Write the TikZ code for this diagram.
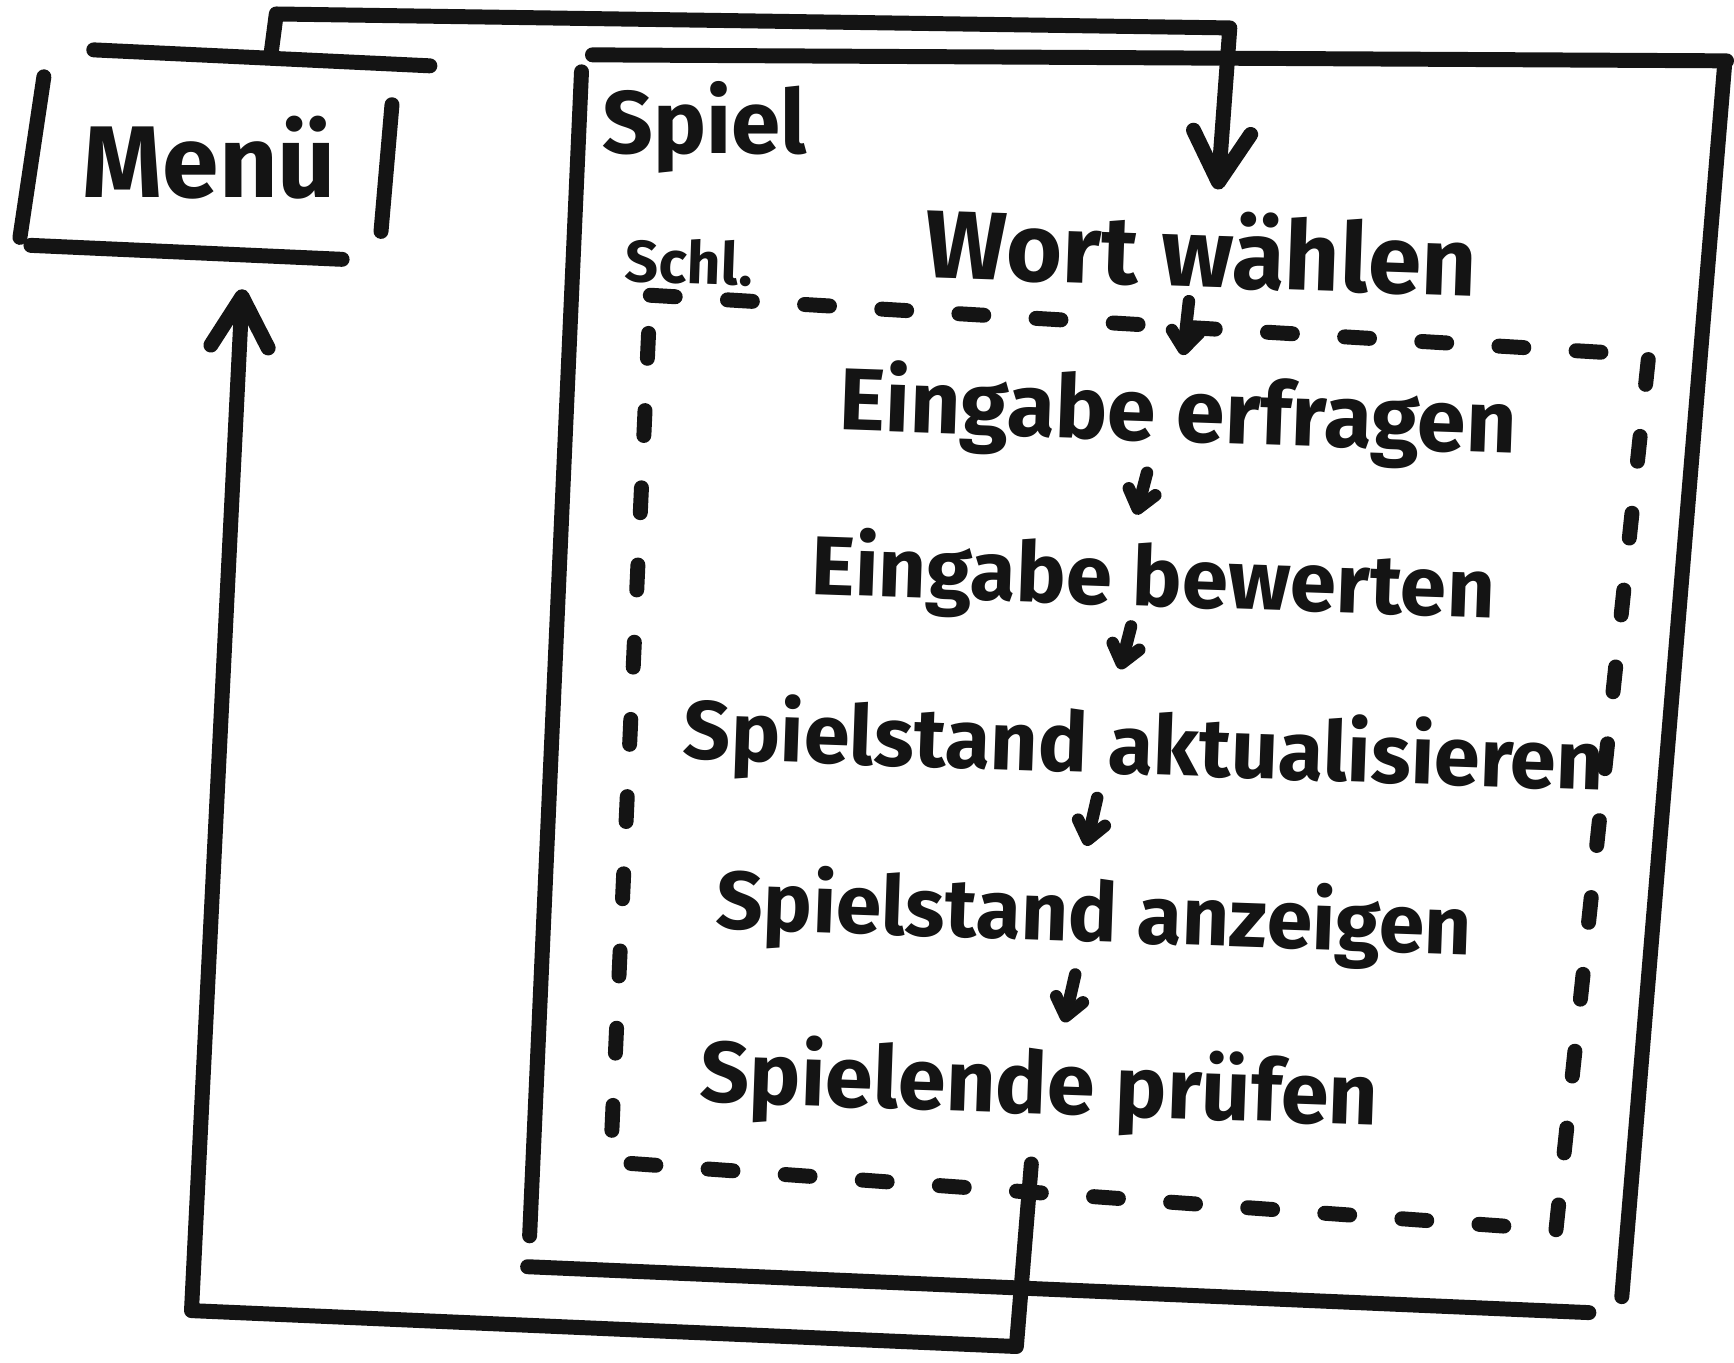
\documentclass[tikz,border=0pt]{standalone}
\usepackage{fontspec}
\usepackage{graphicx}
\setmainfont{Fira Sans}
\usetikzlibrary{arrows.meta}
\newlength\px
\setlength\px{0.02cm}
\newcommand{\hand}[2]{\resizebox{#1\px}{!}{\bfseries #2}}
\begin{document}
\begin{tikzpicture}[x=0.02cm,y=-0.02cm,
  pen/.style={line width=0.3cm,line cap=round,line join=round,draw=black!92},
  thinpen/.style={line width=0.25cm,line cap=round,line join=round,draw=black!92},
  loopline/.style={pen,dash pattern=on 0.5cm off 1.05cm},
  bigtip/.style={-{Straight Barb[length=1cm,width=1.15cm,line cap=round,line join=round]}},
  smalltip/.style={-{Straight Barb[length=0.35cm,width=0.55cm,line cap=round,line join=round]}},
  txt/.style={inner sep=0pt,rotate=-2,text=black!92}]
\fill[white] (0,0) rectangle (1734,1366);

% Menu box: four separate strokes
\draw[pen] (94,50) -- (431,66);
\draw[pen] (44,77) -- (20,238);
\draw[pen] (393,105) -- (382,232);
\draw[pen] (31,246) -- (343,260);
\node[txt,rotate=2] (menu) at (210,158) {\hand{254}{Menü}};

% Game box
\draw[pen] (594,55) -- (1731,61);
\draw[pen] (1729,66) -- (1626,1300);
\draw[pen] (529,1270) -- (1593,1316);
\draw[pen] (583,72) -- (531,1239);
\node[txt,rotate=2,anchor=west] (spiel) at (604,128) {\hand{205}{Spiel}};

% Loop frame
\draw[loopline] (652,296) -- (1653,356) -- (1560,1233) -- (612,1165) -- cycle;
\node[txt,anchor=west,rotate=0] (schl) at (627,260) {\hand{128}{Schl.}};

% Steps
\node[txt] (wort)  at (1205,250) {\hand{553}{Wort wählen}};
\node[txt] (erfr)  at (1181,417) {\hand{680}{Eingabe erfragen}};
\node[txt] (bew)   at (1156,583) {\hand{686}{Eingabe bewerten}};
\node[txt] (akt)   at (1147,752) {\hand{923}{Spielstand aktualisieren}};
\node[txt] (anz)   at (1097,920) {\hand{757}{Spielstand anzeigen}};
\node[txt] (ende)  at (1042,1091) {\hand{680}{Spielende prüfen}};

% Step arrows
\draw[thinpen,smalltip] (1192,302) -- (1186,356);
\draw[thinpen,smalltip] (1150,474) -- (1139,516);
\draw[thinpen,smalltip] (1134,628) -- (1123,671);
\draw[thinpen,smalltip] (1100,800) -- (1089,848);
\draw[thinpen,smalltip] (1078,977) -- (1067,1025);

% Menu -> game
\coordinate (menuout) at (272,52);
\coordinate (wortin) at (1221,190);
\draw[pen,bigtip] (menuout) -- (277,14) -- (1233,28) -- (wortin);

% Game end -> menu
\coordinate (endeout) at (1034,1167);
\coordinate (menuin) at (243,290);
\draw[pen,bigtip] (endeout) -- (1019,1350) -- (192,1314) -- (menuin);
\end{tikzpicture}
\end{document}
